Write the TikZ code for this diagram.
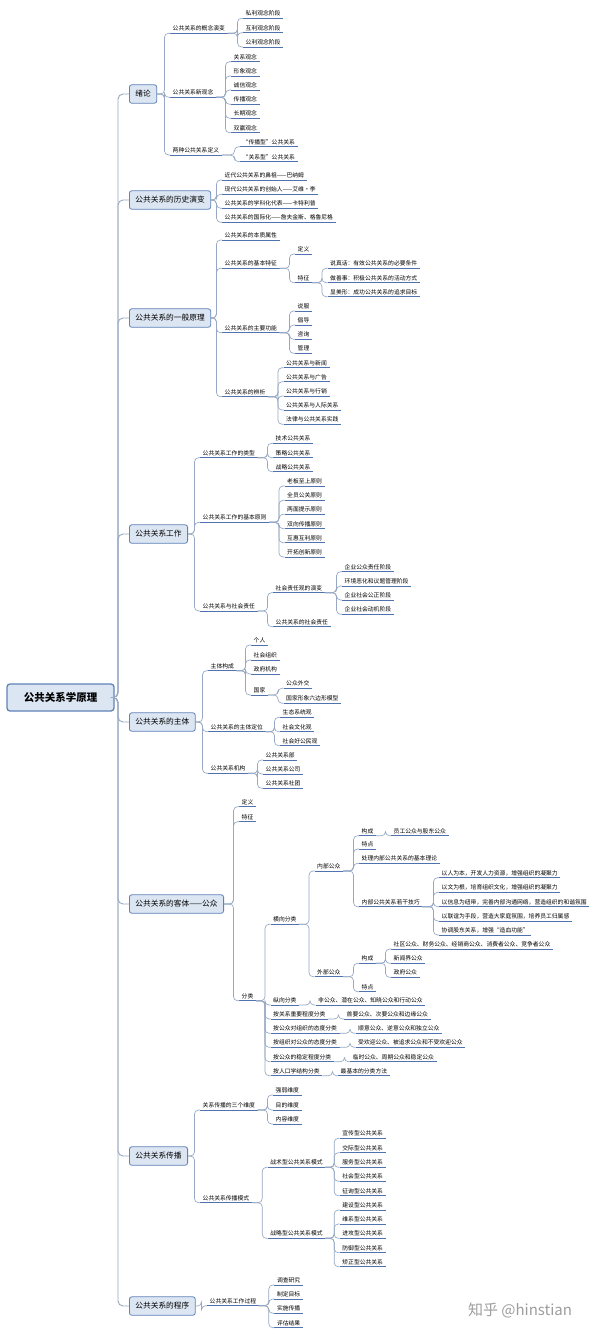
\documentclass[tikz,border=0pt]{standalone}
\usepackage{fontspec}
\setmainfont{Noto Sans CJK SC}
\usepackage{tikz}
\usetikzlibrary{calc,positioning}

\definecolor{boxfill}{RGB}{220,230,242}
\definecolor{boxline}{RGB}{95,130,185}
\definecolor{ulblue}{RGB}{80,115,175}
\definecolor{linkgray}{RGB}{150,168,195}

\tikzset{
  rootbox/.style={draw=boxline, line width=1.3pt, fill=boxfill, rounded corners=3pt,
    minimum width=107pt, minimum height=27pt, font=\fontsize{10.5}{12}\selectfont\bfseries},
  topic/.style={draw=boxline, line width=0.8pt, fill=boxfill, rounded corners=2.5pt,
    anchor=west, minimum height=18.5pt, inner xsep=6pt, font=\fontsize{7.7}{9}\selectfont},
  uline/.style={draw=ulblue, line width=0.9pt, to path={-- (\tikztotarget)}},
  leaf/.style={anchor=south west, inner xsep=2.5pt, inner ysep=1.2pt,
    text height=5pt, text depth=1pt, font=\fontsize{5.8}{7}\selectfont,
    append after command={(\tikzlastnode.south west) edge[uline] (\tikzlastnode.south east)}},
  link/.style={draw=linkgray, line width=0.65pt, rounded corners=4pt,
    to path={-| ($(\tikztotarget)+(-5.5pt,0)$) -- (\tikztotarget)}},
  trunk/.style={draw=linkgray, line width=0.9pt, rounded corners=5pt,
    to path={-| ($(\tikztotarget)+(-11pt,0)$) -- (\tikztotarget)}},
}

\begin{document}
\begin{tikzpicture}[x=1pt, y=-1pt]
  \fill[white] (0,0) rectangle (600,1335);
  \useasboundingbox (0,0) rectangle (600,1335);

  % root and main topics
  \node [rootbox] (root) at (60.5,697.5) {公共关系学原理};
  \node [topic] (xl) at (129,94) {绪论};
  \node [topic] (ls) at (129,200) {公共关系的历史演变};
  \node [topic] (yl) at (129,318) {公共关系的一般原理};
  \node [topic] (gz) at (129,534) {公共关系工作};
  \node [topic] (zt) at (129,722) {公共关系的主体};
  \node [topic] (kt) at (129,904) {公共关系的客体——公众};
  \node [topic] (cb) at (129,1156) {公共关系传播};
  \node [topic] (cx) at (129,1306) {公共关系的程序};

  \path (root.east) edge[trunk] (xl.west) edge[trunk] (ls.west) edge[trunk] (yl.west)
        edge[trunk] (gz.west) edge[trunk] (zt.west) edge[trunk] (kt.west)
        edge[trunk] (cb.west) edge[trunk] (cx.west);

  % 绪论
  \node [leaf] (xlA) at (170,33.3) {公共关系的概念演变};
  \node [leaf] (xlB) at (170,97.3) {公共关系新观念};
  \node [leaf] (xlC) at (170,155) {两种公共关系定义};
  \node [leaf] (xlA1) at (243,18.3) {私利观念阶段};
  \node [leaf] (xlA2) at (243,32.7) {互利观念阶段};
  \node [leaf] (xlA3) at (243,47) {公利观念阶段};
  \node [leaf] (xlB1) at (231,61.7) {关系观念};
  \node [leaf] (xlB2) at (231,76) {形象观念};
  \node [leaf] (xlB3) at (231,90) {诚信观念};
  \node [leaf] (xlB4) at (231,104.3) {传播观念};
  \node [leaf] (xlB5) at (231,118.3) {长期观念};
  \node [leaf] (xlB6) at (231,132.7) {双赢观念};
  \node [leaf] (xlC1) at (240,146.7) {“传播型”公共关系};
  \node [leaf] (xlC2) at (240,161.7) {“关系型”公共关系};

  \path (xl.east) edge[link] (xlA.south west) edge[link] (xlB.south west) edge[link] (xlC.south west);
  \path (xlA.south east) edge[link] (xlA1.south west) edge[link] (xlA2.south west) edge[link] (xlA3.south west);
  \path (xlB.south east) edge[link] (xlB1.south west) edge[link] (xlB2.south west) edge[link] (xlB3.south west)
        edge[link] (xlB4.south west) edge[link] (xlB5.south west) edge[link] (xlB6.south west);
  \path (xlC.south east) edge[link] (xlC1.south west) edge[link] (xlC2.south west);

  % 历史演变
  \node [leaf] (lsA) at (222,180) {近代公共关系的鼻祖——巴纳姆};
  \node [leaf] (lsB) at (222,194.3) {现代公共关系的创始人——艾维·李};
  \node [leaf] (lsC) at (222,208.3) {公共关系的学科化代表——卡特利普};
  \node [leaf] (lsD) at (222,222.3) {公共关系的国际化——詹夫金斯、格鲁尼格};

  \path (ls.east) edge[link] (lsA.south west) edge[link] (lsB.south west) edge[link] (lsC.south west)
        edge[link] (lsD.south west);

  % 一般原理
  \node [leaf] (ylA) at (222,240) {公共关系的本质属性};
  \node [leaf] (ylB) at (222,268.3) {公共关系的基本特征};
  \node [leaf] (ylC) at (222,332.7) {公共关系的主要功能};
  \node [leaf] (ylD) at (222,396.7) {公共关系的辨析};
  \node [leaf] (ylB1) at (295,254) {定义};
  \node [leaf] (ylB2) at (295,282.7) {特征};
  \node [leaf] (ylB21) at (327.5,268.3) {说真话：有效公共关系的必要条件};
  \node [leaf] (ylB22) at (327.5,282.7) {做善事：积极公共关系的活动方式};
  \node [leaf] (ylB23) at (327.5,296.7) {显美形：成功公共关系的追求目标};
  \node [leaf] (ylC1) at (295,311) {说服};
  \node [leaf] (ylC2) at (295,325) {倡导};
  \node [leaf] (ylC3) at (295,339.3) {咨询};
  \node [leaf] (ylC4) at (295,353.3) {管理};
  \node [leaf] (ylD1) at (283.5,367.7) {公共关系与新闻};
  \node [leaf] (ylD2) at (283.5,381.7) {公共关系与广告};
  \node [leaf] (ylD3) at (283.5,396) {公共关系与行销};
  \node [leaf] (ylD4) at (283.5,410) {公共关系与人际关系};
  \node [leaf] (ylD5) at (283.5,424.3) {法律与公共关系实践};

  \path (yl.east) edge[link] (ylA.south west) edge[link] (ylB.south west) edge[link] (ylC.south west)
        edge[link] (ylD.south west);
  \path (ylB.south east) edge[link] (ylB1.south west) edge[link] (ylB2.south west);
  \path (ylB2.south east) edge[link] (ylB21.south west) edge[link] (ylB22.south west) edge[link] (ylB23.south west);
  \path (ylC.south east) edge[link] (ylC1.south west) edge[link] (ylC2.south west) edge[link] (ylC3.south west)
        edge[link] (ylC4.south west);
  \path (ylD.south east) edge[link] (ylD1.south west) edge[link] (ylD2.south west) edge[link] (ylD3.south west)
        edge[link] (ylD4.south west) edge[link] (ylD5.south west);

  % 公共关系工作
  \node [leaf] (gzA) at (200,457.7) {公共关系工作的类型};
  \node [leaf] (gzB) at (200,522.3) {公共关系工作的基本原则};
  \node [leaf] (gzC) at (200,611) {公共关系与社会责任};
  \node [leaf] (gzA1) at (273,443.3) {技术公共关系};
  \node [leaf] (gzA2) at (273,457.7) {策略公共关系};
  \node [leaf] (gzA3) at (273,471.7) {战略公共关系};
  \node [leaf] (gzB1) at (284.5,486) {老板至上原则};
  \node [leaf] (gzB2) at (284.5,500.3) {全员公关原则};
  \node [leaf] (gzB3) at (284.5,514.3) {两面提示原则};
  \node [leaf] (gzB4) at (284.5,528.7) {双向传播原则};
  \node [leaf] (gzB5) at (284.5,542.7) {互惠互利原则};
  \node [leaf] (gzB6) at (284.5,557) {开拓创新原则};
  \node [leaf] (gzC1) at (273,592.7) {社会责任观的演变};
  \node [leaf] (gzC2) at (273,626.7) {公共关系的社会责任};
  \node [leaf] (gzC11) at (342,571.7) {企业公众责任阶段};
  \node [leaf] (gzC12) at (342,586) {环境恶化和议题管理阶段};
  \node [leaf] (gzC13) at (342,600) {企业社会公正阶段};
  \node [leaf] (gzC14) at (342,614.3) {企业社会动机阶段};

  \path (gz.east) edge[link] (gzA.south west) edge[link] (gzB.south west) edge[link] (gzC.south west);
  \path (gzA.south east) edge[link] (gzA1.south west) edge[link] (gzA2.south west) edge[link] (gzA3.south west);
  \path (gzB.south east) edge[link] (gzB1.south west) edge[link] (gzB2.south west) edge[link] (gzB3.south west)
        edge[link] (gzB4.south west) edge[link] (gzB5.south west) edge[link] (gzB6.south west);
  \path (gzC.south east) edge[link] (gzC1.south west) edge[link] (gzC2.south west);
  \path (gzC1.south east) edge[link] (gzC11.south west) edge[link] (gzC12.south west) edge[link] (gzC13.south west)
        edge[link] (gzC14.south west);

  % 主体
  \node [leaf] (ztA) at (208,670.7) {主体构成};
  \node [leaf] (ztB) at (208,731.7) {公共关系的主体定位};
  \node [leaf] (ztC) at (208,773.3) {公共关系机构};
  \node [leaf] (ztA1) at (251,645) {个人};
  \node [leaf] (ztA2) at (251,660) {社会组织};
  \node [leaf] (ztA3) at (251,674) {政府机构};
  \node [leaf] (ztA4) at (251,695) {国家};
  \node [leaf] (ztA41) at (283.5,688.3) {公众外交};
  \node [leaf] (ztA42) at (283.5,703.3) {国家形象六边形模型};
  \node [leaf] (ztB1) at (280,717.3) {生态系统观};
  \node [leaf] (ztB2) at (280,731.7) {社会文化观};
  \node [leaf] (ztB3) at (280,745.7) {社会好公民观};
  \node [leaf] (ztC1) at (263,760) {公共关系部};
  \node [leaf] (ztC2) at (263,774) {公共关系公司};
  \node [leaf] (ztC3) at (263,788.3) {公共关系社团};

  \path (zt.east) edge[link] (ztA.south west) edge[link] (ztB.south west) edge[link] (ztC.south west);
  \path (ztA.south east) edge[link] (ztA1.south west) edge[link] (ztA2.south west) edge[link] (ztA3.south west)
        edge[link] (ztA4.south west);
  \path (ztA4.south east) edge[link] (ztA41.south west) edge[link] (ztA42.south west);
  \path (ztB.south east) edge[link] (ztB1.south west) edge[link] (ztB2.south west) edge[link] (ztB3.south west);
  \path (ztC.south east) edge[link] (ztC1.south west) edge[link] (ztC2.south west) edge[link] (ztC3.south west);

  % 客体——公众
  \node [leaf] (ktA) at (239,806.7) {定义};
  \node [leaf] (ktB) at (239,821.7) {特征};
  \node [leaf] (ktC) at (239,1000.7) {分类};
  \node [leaf] (ktC1) at (270.5,924.3) {横向分类};
  \node [leaf] (ktC11) at (314.5,871) {内部公众};
  \node [leaf] (ktC111) at (359,835.7) {构成};
  \node [leaf] (ktC1111) at (391,835.7) {员工公众与股东公众};
  \node [leaf] (ktC112) at (359,849) {特点};
  \node [leaf] (ktC113) at (359,863.3) {处理内部公共关系的基本理论};
  \node [leaf] (ktC114) at (359,906.7) {内部公共关系若干技巧};
  \node [leaf] (ktC1141) at (439,877.7) {以人为本，开发人力资源，增强组织的凝聚力};
  \node [leaf] (ktC1142) at (439,892.3) {以文为根，培育组织文化，增强组织的凝聚力};
  \node [leaf] (ktC1143) at (439,906.7) {以信息为纽带，完善内部沟通网络，营造组织的和谐氛围};
  \node [leaf] (ktC1144) at (439,921) {以联谊为手段，营造大家庭氛围，培养员工归属感};
  \node [leaf] (ktC1145) at (439,935) {协调股东关系，增强“造血功能”};
  \node [leaf] (ktC12) at (314.5,976.7) {外部公众};
  \node [leaf] (ktC121) at (359,963.3) {构成};
  \node [leaf] (ktC1211) at (391,949) {社区公众、财务公众、经销商公众、消费者公众、竞争者公众};
  \node [leaf] (ktC1212) at (391,963.3) {新闻界公众};
  \node [leaf] (ktC1213) at (391,977.3) {政府公众};
  \node [leaf] (ktC122) at (359,991.7) {特点};
  \node [leaf] (ktC2) at (270.5,1005) {纵向分类};
  \node [leaf] (ktC21) at (315.5,1005) {非公众、潜在公众、知晓公众和行动公众};
  \node [leaf] (ktC3) at (270.5,1019) {按关系重要程度分类};
  \node [leaf] (ktC31) at (344,1019) {首要公众、次要公众和边缘公众};
  \node [leaf] (ktC4) at (270.5,1033.3) {按公众对组织的态度分类};
  \node [leaf] (ktC41) at (355.5,1033.3) {顺意公众、逆意公众和独立公众};
  \node [leaf] (ktC5) at (270.5,1047.3) {按组织对公众的态度分类};
  \node [leaf] (ktC51) at (355.5,1047.3) {受欢迎公众、被追求公众和不受欢迎公众};
  \node [leaf] (ktC6) at (270.5,1061.7) {按公众的稳定程度分类};
  \node [leaf] (ktC61) at (350,1061.7) {临时公众、周期公众和稳定公众};
  \node [leaf] (ktC7) at (270.5,1075.7) {按人口学结构分类};
  \node [leaf] (ktC71) at (338,1075.7) {最基本的分类方法};

  \path (kt.east) edge[link] (ktA.south west) edge[link] (ktB.south west) edge[link] (ktC.south west);
  \path (ktC.south east) edge[link] (ktC1.south west) edge[link] (ktC2.south west) edge[link] (ktC3.south west)
        edge[link] (ktC4.south west) edge[link] (ktC5.south west) edge[link] (ktC6.south west)
        edge[link] (ktC7.south west);
  \path (ktC1.south east) edge[link] (ktC11.south west) edge[link] (ktC12.south west);
  \path (ktC11.south east) edge[link] (ktC111.south west) edge[link] (ktC112.south west)
        edge[link] (ktC113.south west) edge[link] (ktC114.south west);
  \path (ktC111.south east) edge[link] (ktC1111.south west);
  \path (ktC114.south east) edge[link] (ktC1141.south west) edge[link] (ktC1142.south west)
        edge[link] (ktC1143.south west) edge[link] (ktC1144.south west) edge[link] (ktC1145.south west);
  \path (ktC12.south east) edge[link] (ktC121.south west) edge[link] (ktC122.south west);
  \path (ktC121.south east) edge[link] (ktC1211.south west) edge[link] (ktC1212.south west)
        edge[link] (ktC1213.south west);
  \path (ktC2.south east) edge[link] (ktC21.south west);
  \path (ktC3.south east) edge[link] (ktC31.south west);
  \path (ktC4.south east) edge[link] (ktC41.south west);
  \path (ktC5.south east) edge[link] (ktC51.south west);
  \path (ktC6.south east) edge[link] (ktC61.south west);
  \path (ktC7.south east) edge[link] (ktC71.south west);

  % 传播
  \node [leaf] (cbA) at (200,1110) {关系传播的三个维度};
  \node [leaf] (cbB) at (200,1202.7) {公共关系传播模式};
  \node [leaf] (cbA1) at (273,1095) {强弱维度};
  \node [leaf] (cbA2) at (273,1110) {目的维度};
  \node [leaf] (cbA3) at (273,1124) {内容维度};
  \node [leaf] (cbB1) at (267.7,1167.3) {战术型公共关系模式};
  \node [leaf] (cbB2) at (267.7,1238.3) {战略型公共关系模式};
  \node [leaf] (cbB11) at (339.7,1138.3) {宣传型公共关系};
  \node [leaf] (cbB12) at (339.7,1152.7) {交际型公共关系};
  \node [leaf] (cbB13) at (339.7,1167.3) {服务型公共关系};
  \node [leaf] (cbB14) at (339.7,1181.3) {社会型公共关系};
  \node [leaf] (cbB15) at (339.7,1195.7) {征询型公共关系};
  \node [leaf] (cbB21) at (339.7,1210) {建设型公共关系};
  \node [leaf] (cbB22) at (339.7,1224) {维系型公共关系};
  \node [leaf] (cbB23) at (339.7,1238.3) {进攻型公共关系};
  \node [leaf] (cbB24) at (339.7,1252.7) {防御型公共关系};
  \node [leaf] (cbB25) at (339.7,1266.7) {矫正型公共关系};

  \path (cb.east) edge[link] (cbA.south west) edge[link] (cbB.south west);
  \path (cbA.south east) edge[link] (cbA1.south west) edge[link] (cbA2.south west) edge[link] (cbA3.south west);
  \path (cbB.south east) edge[link] (cbB1.south west) edge[link] (cbB2.south west);
  \path (cbB1.south east) edge[link] (cbB11.south west) edge[link] (cbB12.south west) edge[link] (cbB13.south west)
        edge[link] (cbB14.south west) edge[link] (cbB15.south west);
  \path (cbB2.south east) edge[link] (cbB21.south west) edge[link] (cbB22.south west) edge[link] (cbB23.south west)
        edge[link] (cbB24.south west) edge[link] (cbB25.south west);

  % 程序
  \node [leaf] (cxA) at (207,1305.7) {公共关系工作过程};
  \node [leaf] (cxA1) at (274.3,1285) {调查研究};
  \node [leaf] (cxA2) at (274.3,1299) {制定目标};
  \node [leaf] (cxA3) at (274.3,1313.3) {实施传播};
  \node [leaf] (cxA4) at (274.3,1327.7) {评估结果};

  \path (cx.east) edge[link] (cxA.south west);
  \path (cxA.south east) edge[link] (cxA1.south west) edge[link] (cxA2.south west) edge[link] (cxA3.south west)
        edge[link] (cxA4.south west);

  \node [text=black!38, font=\fontsize{15}{17}\selectfont] (mark) at (520,1310) {知乎 @hinstian};
\end{tikzpicture}
\end{document}
